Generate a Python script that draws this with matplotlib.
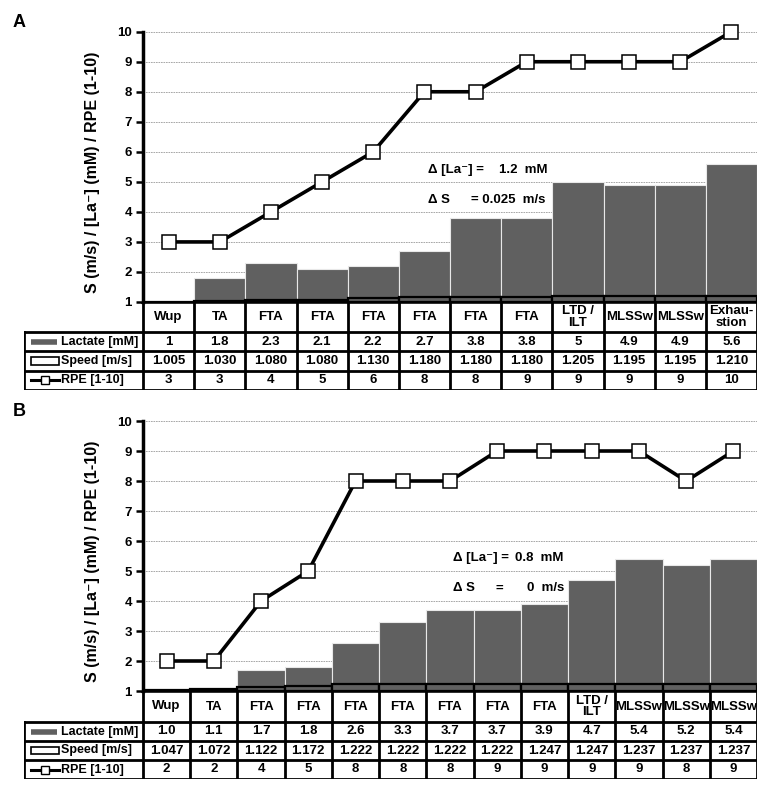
import numpy as np
import matplotlib
matplotlib.use("Agg")
import matplotlib.pyplot as plt
from matplotlib.patches import Rectangle

plt.rcParams['font.family'] = ['Liberation Sans', 'DejaVu Sans']
plt.rcParams['font.weight'] = 'bold'

# -- Data ------------------------------------------------------------------
stages_a = ['Wup', 'TA', 'FTA', 'FTA', 'FTA', 'FTA', 'FTA', 'FTA',
            'LTD /\nILT', 'MLSSw', 'MLSSw', 'Exhau-\nstion']
lactate_a = [1, 1.8, 2.3, 2.1, 2.2, 2.7, 3.8, 3.8, 5, 4.9, 4.9, 5.6]
speed_a = [1.005, 1.030, 1.080, 1.080, 1.130, 1.180, 1.180, 1.180, 1.205, 1.195, 1.195, 1.210]
rpe_a = [3, 3, 4, 5, 6, 8, 8, 9, 9, 9, 9, 10]

stages_b = ['Wup', 'TA', 'FTA', 'FTA', 'FTA', 'FTA', 'FTA', 'FTA', 'FTA',
            'LTD /\nILT', 'MLSSw', 'MLSSw', 'MLSSw']
lactate_b = [1.0, 1.1, 1.7, 1.8, 2.6, 3.3, 3.7, 3.7, 3.9, 4.7, 5.4, 5.2, 5.4]
speed_b = [1.047, 1.072, 1.122, 1.172, 1.222, 1.222, 1.222, 1.222, 1.247, 1.247, 1.237, 1.237, 1.237]
rpe_b = [2, 2, 4, 5, 8, 8, 8, 9, 9, 9, 9, 8, 9]

# delta annotations: (text, x offset in columns) pieces per line
delta_a = [[('Δ [La⁻] =', 0), ('1.2  mM', 1.39)], [('Δ S', 0), ('= 0.025  m/s', 0.84)]]
delta_b = [[('Δ [La⁻] =', 0), ('0.8  mM', 1.31)], [('Δ S', 0), ('=', 0.89), ('0  m/s', 1.57)]]

W, H = 762, 785
BAR_C = '#606060'


def fx(px):
    return px / W


def fy(py):
    return 1 - py / H


def draw_panel(fig, letter, top, base, rows_bot, head_bot, stages, lac, spd, rpe,
               lac_fmt, delta, d_xy):
    n = len(stages)
    left, right, lab_left = 143, 757, 24

    # --- chart part ---
    ax = fig.add_axes([fx(left), fy(base), fx(right - left), (base - top) / H])
    x = np.arange(n)
    lac = np.array(lac, float)
    spd = np.array(spd, float)
    ax.bar(x, lac - 1, bottom=1, width=1.0, color=BAR_C, edgecolor='#e8e8e8', lw=0.8, zorder=2)
    ax.bar(x, spd - 1, bottom=1, width=1.0, fill=False, edgecolor='black', lw=1.6, zorder=3)
    ax.plot(x, rpe, color='black', lw=2.6, marker='s', ms=10.5, mfc='white',
            mec='black', mew=1.1, zorder=4, clip_on=False)
    ax.set_xlim(-0.5, n - 0.5)
    ax.set_ylim(1, 10)
    ax.set_yticks(range(1, 11))
    ax.set_xticks([])
    for yy in range(2, 11):
        ax.axhline(yy, color='#9a9a9a', lw=0.6, ls=(0, (2, 1)), zorder=1)
    for s in ['top', 'right', 'bottom']:
        ax.spines[s].set_visible(False)
    ax.spines['left'].set_linewidth(2.5)
    ax.tick_params(axis='y', length=5, width=1.8, labelsize=9.5, pad=3)
    for t in ax.get_yticklabels():
        t.set_fontweight('bold')

    dx, dy = d_xy
    for j, line in enumerate(delta):
        for txt, off in line:
            ax.text(dx + off, dy - j, txt, fontsize=9.5, fontweight='bold',
                    va='center', ha='left', zorder=5)

    fig.text(fx(93), fy((top + base) / 2 + 5), 'S (m/s) / [La⁻] (mM) / RPE (1-10)',
             rotation=90, ha='center', va='center', fontsize=11.5, fontweight='bold')
    fig.text(fx(13), fy(top - 9), letter, fontsize=13, fontweight='bold', ha='left', va='center')

    # --- table part ---
    upp = (right - left) / n  # px per column
    xl = -0.5 - (left - lab_left) / upp
    tb = fig.add_axes([fx(lab_left), fy(rows_bot), fx(right - lab_left), (rows_bot - base) / H])
    tb.set_axis_off()
    hh = (head_bot - base) / ((rows_bot - head_bot) / 3)
    tb.set_xlim(xl, n - 0.5)
    tb.set_ylim(hh + 3, 0)
    kw = dict(color='black', lw=2.0, solid_capstyle='projecting')
    tb.plot([-0.5, n - 0.5], [0, 0], lw=2.6, color='black', solid_capstyle='projecting')
    for yy in [hh, hh + 1, hh + 2, hh + 3]:
        tb.plot([xl, n - 0.5], [yy, yy], **kw)
    for k in range(n + 1):
        tb.plot([k - 0.5, k - 0.5], [0, hh + 3], **kw)
    tb.plot([xl, xl], [hh, hh + 3], **kw)

    fs = 9.5
    for i in range(n):
        tb.text(i, hh / 2, stages[i], ha='center', va='center', fontsize=fs,
                fontweight='bold', linespacing=0.95)
        tb.text(i, hh + 0.5, lac_fmt(lac[i]), ha='center', va='center', fontsize=fs, fontweight='bold')
        tb.text(i, hh + 1.5, '%.3f' % spd[i], ha='center', va='center', fontsize=fs, fontweight='bold')
        tb.text(i, hh + 2.5, '%d' % rpe[i], ha='center', va='center', fontsize=fs, fontweight='bold')

    def px2x(px):
        return xl + (px - lab_left) / upp

    names = ['Lactate [mM]', 'Speed [m/s]', 'RPE [1-10]']
    for j, nm in enumerate(names):
        tb.text(px2x(61), hh + j + 0.5, nm, ha='left', va='center', fontsize=9, fontweight='bold')
    tb.plot([px2x(31), px2x(57)], [hh + 0.5, hh + 0.5], color=BAR_C, lw=4, solid_capstyle='butt')
    tb.add_patch(Rectangle((px2x(31), hh + 1.3), px2x(59) - px2x(31), 0.4,
                           fill=False, edgecolor='black', lw=1.2))
    tb.plot([px2x(31), px2x(59)], [hh + 2.5, hh + 2.5], color='black', lw=2.2)
    tb.plot([px2x(45)], [hh + 2.5], marker='s', ms=6, mfc='white', mec='black', mew=1)
    return ax


fig = plt.figure(figsize=(W / 100, H / 100), dpi=100)

draw_panel(fig, 'A', 31.7, 302, 390, 332, stages_a, lactate_a, speed_a, rpe_a,
           lambda v: '%g' % v, delta_a, (5.07, 5.38))
draw_panel(fig, 'B', 421, 691, 779, 722, stages_b, lactate_b, speed_b, rpe_b,
           lambda v: '%.1f' % v, delta_b, (6.07, 5.42))

fig.savefig('out.png', dpi=100, facecolor='white')
